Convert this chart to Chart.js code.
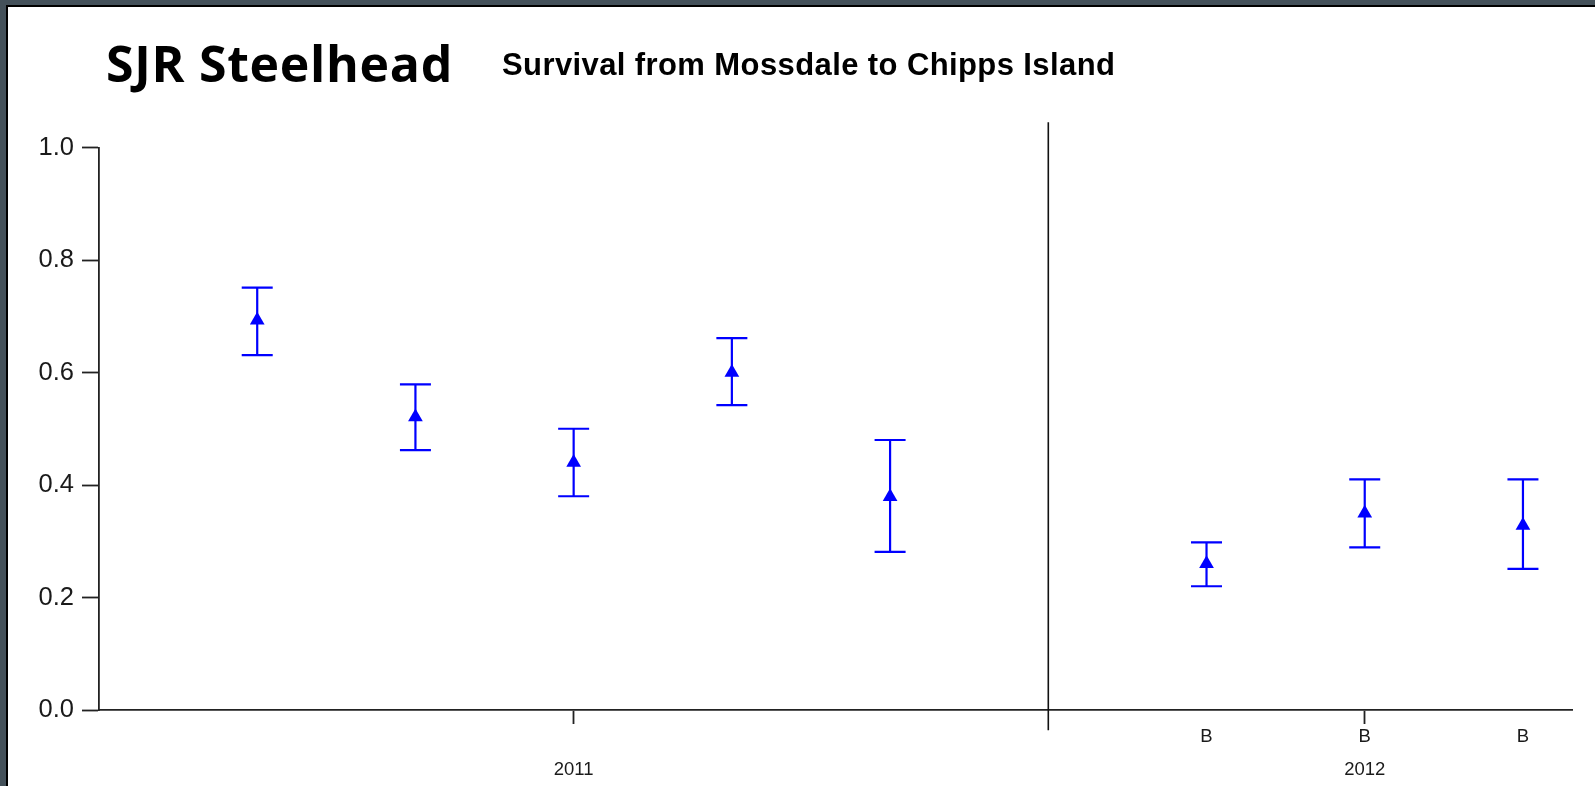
<!DOCTYPE html>
<html>
<head>
<meta charset="utf-8">
<script src="https://cdn.jsdelivr.net/npm/chart.js@4/dist/chart.umd.min.js"></script>
<style>
html,body{margin:0;padding:0;width:1595px;height:786px;overflow:hidden;background:#fff;}
.band{position:absolute;background:#44515a;}
.line{position:absolute;background:#000;}
#wrap{position:absolute;left:0;top:0;width:1595px;height:786px;}
.t1{position:absolute;left:106px;top:38px;font-family:"Open Sans";font-weight:700;font-size:50px;line-height:50px;letter-spacing:0.7px;white-space:nowrap;color:#000;}
.t2{position:absolute;left:502px;top:49px;font-family:"Liberation Sans";font-weight:700;font-size:31px;line-height:31px;letter-spacing:0.4px;white-space:nowrap;color:#000;}
</style>
</head>
<body>
<div class="band" style="left:0;top:0;width:1595px;height:5px;"></div>
<div class="band" style="left:0;top:0;width:6px;height:786px;"></div>
<div class="line" style="left:6px;top:5px;width:1589px;height:2px;"></div>
<div class="line" style="left:6px;top:5px;width:2px;height:781px;"></div>
<div id="wrap"><canvas id="c" width="1595" height="786"></canvas></div>
<div class="t1">SJR Steelhead</div>
<div class="t2">Survival from Mossdale to Chipps Island</div>
<script>
// ---- data ----
const releaseYear  = ['2011','2011','2011','2011','2011','2012','2012','2012'];
const releaseLabel = ['', '', '', '', '', 'B', 'B', 'B'];
const survival = [0.693, 0.521, 0.440, 0.600, 0.379, 0.260, 0.350, 0.328];
const lowerCI  = [0.631, 0.462, 0.380, 0.542, 0.281, 0.220, 0.289, 0.251];
const upperCI  = [0.751, 0.579, 0.500, 0.661, 0.480, 0.298, 0.410, 0.410];
const yTicks   = [0.0, 0.2, 0.4, 0.6, 0.8, 1.0];

// ---- derived positions (index with one empty slot between years) ----
const xIndex = [];
const gaps = [];
let offset = 0;
for (let i = 0; i < releaseYear.length; i++) {
  if (i > 0 && releaseYear[i] !== releaseYear[i - 1]) { gaps.push(i + offset); offset++; }
  xIndex.push(i + offset);
}
const years = [...new Set(releaseYear)];
const yearCenter = {};
years.forEach(yr => {
  const idx = xIndex.filter((_, i) => releaseYear[i] === yr);
  yearCenter[yr] = (Math.min(...idx) + Math.max(...idx)) / 2;
});
const centerValues = years.map(yr => yearCenter[yr]);
const labelValues = xIndex.filter((_, i) => releaseLabel[i] !== '');
const xTickValues = [...new Set([...centerValues, ...labelValues])].sort((a, b) => a - b);

function xTickLabel(v) {
  const i = xIndex.indexOf(v);
  const first = i >= 0 ? releaseLabel[i] : '';
  const yr = years.find(y => yearCenter[y] === v);
  return yr ? [first, yr] : first;
}

const points = xIndex.map((x, i) => ({ x: x, y: survival[i] }));

const errorBars = {
  id: 'errorBars',
  beforeDatasetsDraw(chart) {
    const { ctx, scales: { x, y } } = chart;
    ctx.save();
    // separator between years
    ctx.strokeStyle = '#111';
    ctx.lineWidth = 1.6;
    gaps.forEach(g => {
      const px = x.getPixelForValue(g);
      ctx.beginPath();
      ctx.moveTo(px, y.getPixelForValue(1.045));
      ctx.lineTo(px, y.getPixelForValue(-0.036));
      ctx.stroke();
    });
    // error bars
    ctx.strokeStyle = '#0000ff';
    ctx.lineWidth = 2.2;
    const cap = 15.5;
    xIndex.forEach((xi, i) => {
      const px = x.getPixelForValue(xi);
      const pl = y.getPixelForValue(lowerCI[i]);
      const pu = y.getPixelForValue(upperCI[i]);
      ctx.beginPath();
      ctx.moveTo(px, pl); ctx.lineTo(px, pu);
      ctx.moveTo(px - cap, pl); ctx.lineTo(px + cap, pl);
      ctx.moveTo(px - cap, pu); ctx.lineTo(px + cap, pu);
      ctx.stroke();
    });
    ctx.restore();
  }
};

new Chart(document.getElementById('c'), {
  type: 'scatter',
  data: {
    datasets: [{
      data: points,
      pointStyle: 'triangle',
      pointRadius: 8.5,
      pointHoverRadius: 8.5,
      backgroundColor: '#0000ff',
      borderColor: '#0000ff',
      borderWidth: 0,
      showLine: false
    }]
  },
  options: {
    responsive: false,
    animation: false,
    devicePixelRatio: 1,
    layout: { padding: { top: 147.5, right: 23, bottom: 0, left: 0 } },
    plugins: { legend: { display: false }, tooltip: { enabled: false } },
    scales: {
      x: {
        type: 'linear',
        min: -1, max: 8.31,
        afterBuildTicks: s => { s.ticks = xTickValues.map(v => ({ value: v })); },
        afterFit: s => { s.height = 76; },
        grid: {
          drawOnChartArea: false, drawTicks: true, tickLength: 14, tickWidth: 1.8,
          tickColor: c => (c.tick && centerValues.includes(c.tick.value)) ? '#222' : 'rgba(0,0,0,0)'
        },
        border: { display: true, color: '#222', width: 1.8 },
        ticks: {
          autoSkip: false, maxRotation: 0, minRotation: 0, padding: -4, color: '#1a1a1a',
          font: { family: 'Liberation Sans', size: 18.5, lineHeight: '33px' },
          callback: v => xTickLabel(v)
        }
      },
      y: {
        min: 0, max: 1,
        afterBuildTicks: s => { s.ticks = yTicks.map(v => ({ value: v })); },
        afterFit: s => { s.width = 99; },
        grid: { drawOnChartArea: false, drawTicks: true, tickLength: 17, tickWidth: 1.8, tickColor: '#222' },
        border: { display: true, color: '#222', width: 1.8 },
        ticks: {
          padding: 8, color: '#1a1a1a',
          font: { family: 'Liberation Sans', size: 25.5 },
          callback: v => Number(v).toFixed(1)
        }
      }
    }
  },
  plugins: [errorBars]
});
</script>
</body>
</html>
